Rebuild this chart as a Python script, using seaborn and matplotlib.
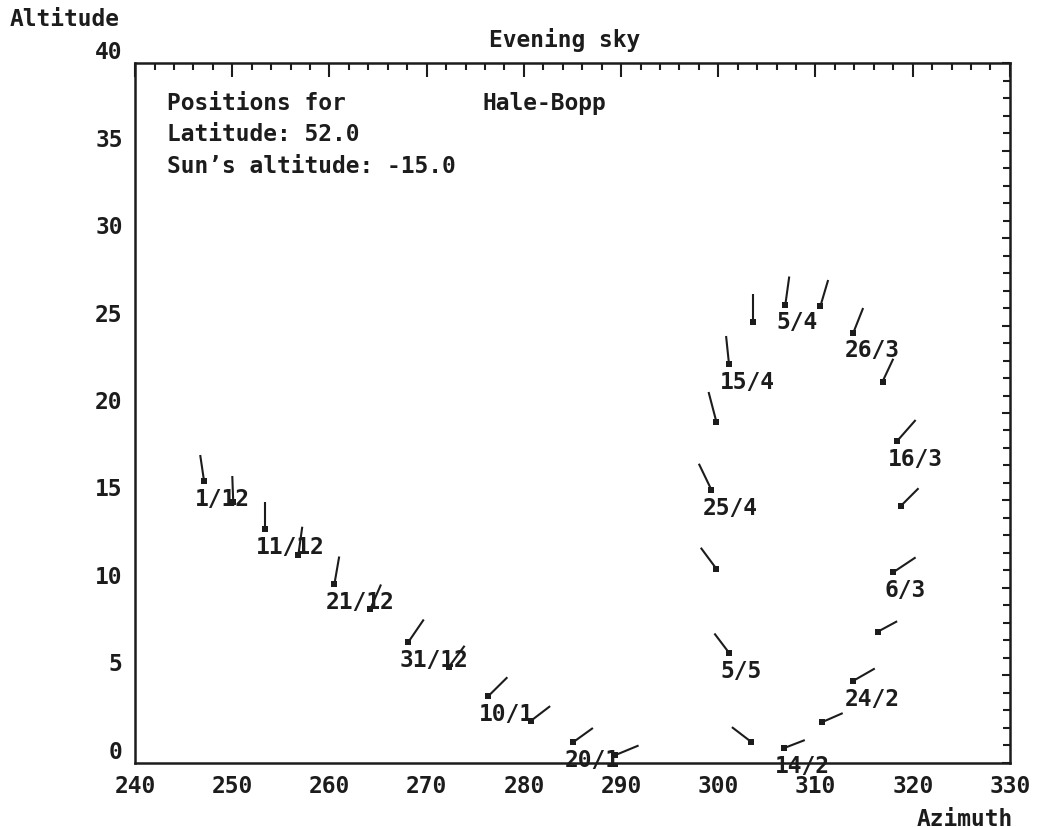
import matplotlib
matplotlib.use("Agg")
import matplotlib.pyplot as plt
import seaborn as sns
import pandas as pd
from matplotlib.ticker import MultipleLocator

# comet positions, every 5 days (points below the horizon are not shown)
dates = ['1/12', '6/12', '11/12', '16/12', '21/12', '26/12', '31/12', '5/1', '10/1',
         '15/1', '20/1', '25/1',
         '14/2', '19/2', '24/2', '1/3', '6/3', '11/3', '16/3', '21/3', '26/3', '31/3',
         '5/4', '10/4', '15/4', '20/4', '25/4', '30/4', '5/5', '10/5']
azimuth = [247.1, 250.1, 253.4, 256.8, 260.5, 264.2, 268.1, 272.3, 276.3,
           280.7, 285.1, 289.4,
           306.8, 310.7, 313.9, 316.4, 318.0, 318.8, 318.4, 316.9, 313.9, 310.5,
           306.9, 303.6, 301.1, 299.8, 299.3, 299.8, 301.1, 303.4]
altitude = [16.1, 14.9, 13.35, 11.9, 10.2, 8.8, 6.9, 5.5, 3.8,
            2.4, 1.2, 0.45,
            0.86, 2.34, 4.7, 7.5, 10.9, 14.7, 18.4, 21.8, 24.6, 26.1,
            26.2, 25.2, 22.8, 19.5, 15.6, 11.1, 6.3, 1.2]
# end of the tail drawn from each position
tail_az = [246.7, 250.0, 253.4, 257.2, 261.0, 265.3, 269.7, 273.9, 278.3,
           282.7, 287.1, 291.8,
           308.9, 312.8, 316.1, 318.4, 320.3, 320.6, 320.3, 318.0, 314.9, 311.3,
           307.3, 303.6, 300.8, 299.0, 298.0, 298.2, 299.6, 301.4]
tail_alt = [17.6, 16.4, 14.9, 13.5, 11.8, 10.2, 8.2, 6.7, 4.9,
            3.25, 2.0, 1.0,
            1.31, 2.85, 5.4, 8.1, 11.75, 15.7, 19.6, 23.1, 26.0, 27.6,
            27.8, 26.8, 24.4, 21.2, 17.1, 12.3, 7.4, 2.05]
labelled = ['1/12', '11/12', '21/12', '31/12', '10/1', '20/1', '14/2', '24/2', '6/3',
            '16/3', '26/3', '5/4', '15/4', '25/4', '5/5']

df = pd.DataFrame({'date': dates, 'az': azimuth, 'alt': altitude,
                   'taz': tail_az, 'talt': tail_alt})

sns.set_style('white')
ink = '#1c1c1c'
font = dict(family='DejaVu Sans Mono', weight='bold', size=16.5, color=ink)
plt.rcParams['font.family'] = ['DejaVu Sans Mono', 'DejaVu Sans']
plt.rcParams['font.weight'] = 'bold'

fig = plt.figure(figsize=(10.39, 8.28), dpi=100)
ax = fig.add_axes([0.130, 0.0773, 0.842, 0.8454])

for _, r in df.iterrows():
    ax.plot([r.az, r.taz], [r.alt, r.talt], color=ink, lw=1.5, solid_capstyle='butt')
sns.scatterplot(data=df, x='az', y='alt', marker='s', s=22, color=ink,
                edgecolor=ink, linewidth=0, ax=ax, zorder=3)

for _, r in df[df.date.isin(labelled)].iterrows():
    ax.annotate(r.date, (r.az, r.alt), xytext=(-6.5, -12.5), textcoords='offset points',
                ha='left', va='center', **font)

ax.set_xlim(240, 330)
ax.set_ylim(0, 40)
ax.xaxis.set_major_locator(MultipleLocator(10))
ax.xaxis.set_minor_locator(MultipleLocator(2))
ax.yaxis.set_major_locator(MultipleLocator(5))
ax.yaxis.set_minor_locator(MultipleLocator(1))
ax.tick_params(which='both', direction='in', top=True, right=True, color=ink, width=1.5)
ax.tick_params(axis='x', which='major', length=10, pad=8)
ax.tick_params(axis='x', which='minor', length=5)
ax.tick_params(axis='y', which='major', length=6, pad=9)
ax.tick_params(axis='y', which='minor', length=5)
for lbl in ax.get_xticklabels() + ax.get_yticklabels():
    lbl.set_fontproperties('DejaVu Sans Mono')
    lbl.set_fontweight('bold')
    lbl.set_fontsize(16.5)
    lbl.set_color(ink)
for lbl in ax.get_yticklabels():
    lbl.set_va('bottom')
for sp in ax.spines.values():
    sp.set_color(ink)
    sp.set_linewidth(1.8)
ax.set_xlabel('')
ax.set_ylabel('')

fig.text(565 / 1039, 1 - 40 / 828, 'Evening sky', ha='center', va='center', **font)
fig.text(10 / 1039, 1 - 20 / 828, 'Altitude', ha='left', va='center', **font)
fig.text(1013 / 1039, 1 - 820 / 828, 'Azimuth', ha='right', va='center', **font)

ax.text(243.3, 37.75, 'Positions for', ha='left', va='center', **font)
ax.text(275.7, 37.75, 'Hale-Bopp', ha='left', va='center', **font)
ax.text(243.3, 35.95, 'Latitude: 52.0', ha='left', va='center', **font)
ax.text(243.3, 34.15, "Sun\u2019s altitude: -15.0", ha='left', va='center', **font)

fig.savefig('out.png', dpi=100)
